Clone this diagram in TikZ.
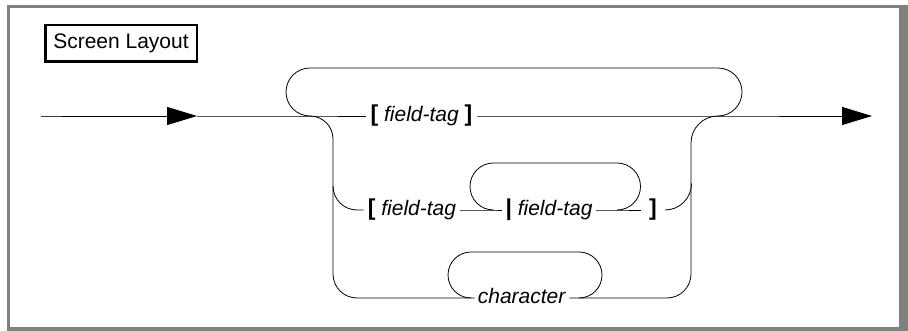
\documentclass[tikz,border=0pt]{standalone}
\usepackage{fontspec}
\setmainfont{Liberation Sans}
\usetikzlibrary{arrows.meta}
\newcommand\railsym[1]{{\fontsize{23}{25}\selectfont\bfseries #1}}
\begin{document}
\fontsize{21}{25}\selectfont
\begin{tikzpicture}[x=1pt, y=1pt,
  rail/.style={line width=0.8pt},
  tip/.style={-{Triangle[length=30pt, width=18pt]}},
  lbl/.style={anchor=mid, inner ysep=0pt, inner xsep=3pt},
  titlebox/.style={draw, line width=2.5pt, minimum width=151.5pt,
                   minimum height=36.5pt, inner sep=0pt}
]
\useasboundingbox (0,0) rectangle (908,331);
% frame with shadow
\fill[gray] (7,0) rectangle (908,326);
\fill[white] (10,4) rectangle (899,323);
\node[titlebox] (title) at (121,287.5) {Screen Layout};
% main line
\coordinate (s0) at (41,215);
\coordinate (s1) at (197,215);
\coordinate (jl) at (310,215);
\coordinate (jr) at (718,215);
\coordinate (s2) at (872,215);
\node[lbl, inner xsep=4pt] (opt1) at (421.5,215) {\railsym{[} \textit{field-tag} \railsym{]}};
\draw[rail, black!75] (s0) -- ++(21,0);
\draw[rail, tip] (s0) ++(21,0) -- (s1);
\draw[rail] (s1) -- (jl) -- (opt1.mid west);
\draw[rail, tip] (opt1.mid east) -- (jr) -- (s2);
\draw[rail] (jl) arc[start angle=270, end angle=90, radius=24]
  -- ++(408,0) arc[start angle=90, end angle=-90, radius=24];
% second row
\coordinate (v2) at (333,145);
\coordinate (jl2) at (493.5,121);
\coordinate (jr2) at (617,121);
\node[lbl, inner xsep=4pt] (ft2a) at (412,121) {\railsym{[} \textit{field-tag}};
\node[lbl] (ft2b) at (549,121) {\railsym{|} \textit{field-tag}};
\node[lbl, inner xsep=8pt] (rb2) at (653,121) {\railsym{]}};
\draw[rail] (v2) arc[start angle=180, end angle=270, radius=24] -- (ft2a.mid west);
\draw[rail] (ft2a.mid east) -- (jl2) -- (ft2b.mid west);
\draw[rail] (ft2b.mid east) -- (jr2) -- (rb2.mid west);
\draw[rail] (rb2.mid east) arc[start angle=270, end angle=360, radius=26.5];
\draw[rail] (jl2) arc[start angle=270, end angle=90, radius=23.5]
  -- ++(123.5,0) arc[start angle=90, end angle=-90, radius=23.5];
% third row
\coordinate (jl3) at (471,33);
\coordinate (jr3) at (579,33);
\coordinate (c3) at (667,33);
\node[lbl] (chr) at (522,33) {\textit{character}};
\draw[rail] (jl) arc[start angle=90, end angle=0, radius=23]
  -- (333,57) arc[start angle=180, end angle=270, radius=24] -- (jl3) -- (chr.mid west);
\draw[rail] (chr.mid east) -- (jr3) -- (c3) arc[start angle=270, end angle=360, radius=24]
  -- (691,188) arc[start angle=180, end angle=90, radius=27];
\draw[rail] (jl3) arc[start angle=270, end angle=90, radius=23]
  -- ++(108,0) arc[start angle=90, end angle=-90, radius=23];
\end{tikzpicture}
\end{document}
